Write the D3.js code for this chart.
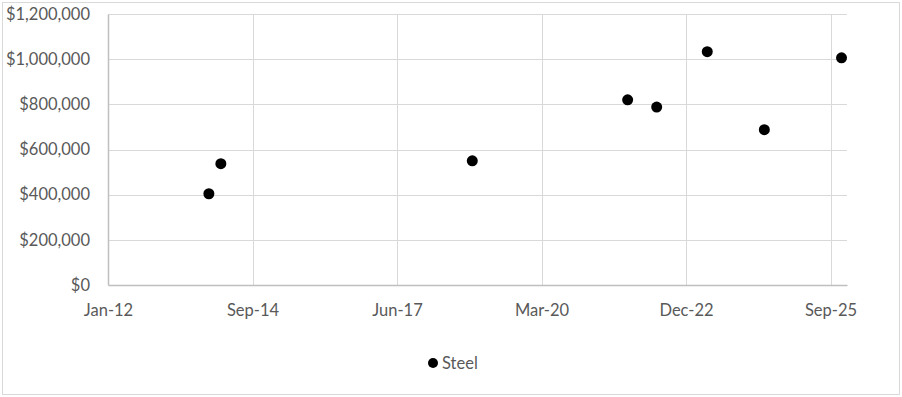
<!DOCTYPE html>
<html>
<head>
<meta charset="utf-8">
<script src="https://cdn.jsdelivr.net/npm/d3@7"></script>
<style>
  body { margin: 0; background: #fff; }
  #container { width: 902px; height: 397px; }
  text { font-family: Lato, "Open Sans", sans-serif; fill: #595959; }
</style>
</head>
<body>
<div id="container"></div>
<script>
const seriesName = 'Steel';
const dates = ['2013-11-29', '2014-02-20', '2018-11-26', '2021-11-05', '2022-05-25', '2023-05-10', '2024-06-08', '2025-11-24'];
const values = [404000, 537000, 550000, 820000, 788000, 1033000, 688000, 1006000];
const yTicks = [0, 200000, 400000, 600000, 800000, 1000000, 1200000];
// Excel date axis: starts Jan-12, a major unit every 1000 days
const xStart = '2012-01-01';
const xEnd = '2026-01-01';
const xStepDays = 1000;

const W = 902, H = 397;
const margin = { top: 14, right: 55, bottom: 112, left: 108 };
const width = W - margin.left - margin.right;
const height = H - margin.top - margin.bottom;

const parse = d3.utcParse('%Y-%m-%d');
const data = dates.map((d, i) => ({ date: parse(d), value: values[i] }));

const svg = d3.select('#container')
  .append('svg')
  .attr('width', W)
  .attr('height', H);

// Chart border
svg.append('rect')
  .attr('x', 2.5).attr('y', 2.5)
  .attr('width', W - 5).attr('height', H - 5)
  .attr('fill', '#fff')
  .attr('stroke', '#d9d9d9');

const g = svg.append('g')
  .attr('transform', `translate(${margin.left}, ${margin.top})`);

const x = d3.scaleUtc()
  .domain([parse(xStart), parse(xEnd)])
  .range([0, width]);

const y = d3.scaleLinear()
  .domain([0, 1200000])
  .range([height, 0]);

const xTicks = d3.range(0, 6).map(i => d3.utcDay.offset(parse(xStart), i * xStepDays));

// Gridlines
g.append('g')
  .selectAll('line')
  .data(yTicks.slice(1))
  .join('line')
  .attr('x1', 0).attr('x2', width)
  .attr('y1', d => Math.round(y(d)) + 0.5)
  .attr('y2', d => Math.round(y(d)) + 0.5)
  .attr('stroke', '#d9d9d9');

g.append('g')
  .selectAll('line')
  .data(xTicks.slice(1))
  .join('line')
  .attr('x1', d => Math.round(x(d)) + 0.5)
  .attr('x2', d => Math.round(x(d)) + 0.5)
  .attr('y1', 0).attr('y2', height)
  .attr('stroke', '#d9d9d9');

// Axes
const xAxis = d3.axisBottom(x)
  .tickValues(xTicks)
  .tickFormat(d3.utcFormat('%b-%y'))
  .tickSize(0)
  .tickPadding(19);

const yAxis = d3.axisLeft(y)
  .tickValues(yTicks)
  .tickFormat(d => '$' + d3.format(',')(d))
  .tickSize(0)
  .tickPadding(18);

const gx = g.append('g')
  .attr('transform', `translate(0, ${height})`)
  .call(xAxis);
gx.select('.domain').attr('stroke', '#bfbfbf').attr('stroke-width', 1.5);
gx.selectAll('text').attr('font-size', 16.5).style('fill', '#595959');

const gy = g.append('g').call(yAxis);
gy.select('.domain').attr('stroke', '#bfbfbf').attr('stroke-width', 1.5);
gy.selectAll('text').attr('font-size', 16.5).style('fill', '#595959');

// Points
g.selectAll('.dot')
  .data(data)
  .join('circle')
  .attr('class', 'dot')
  .attr('cx', d => x(d.date))
  .attr('cy', d => y(d.value))
  .attr('r', 5.5)
  .attr('fill', '#000');

// Legend
const legend = svg.append('g')
  .attr('transform', 'translate(433, 363)');
legend.append('circle')
  .attr('r', 5)
  .attr('fill', '#000');
legend.append('text')
  .attr('x', 9)
  .attr('dy', '0.35em')
  .attr('font-size', 16.5)
  .text(seriesName);
</script>
</body>
</html>
